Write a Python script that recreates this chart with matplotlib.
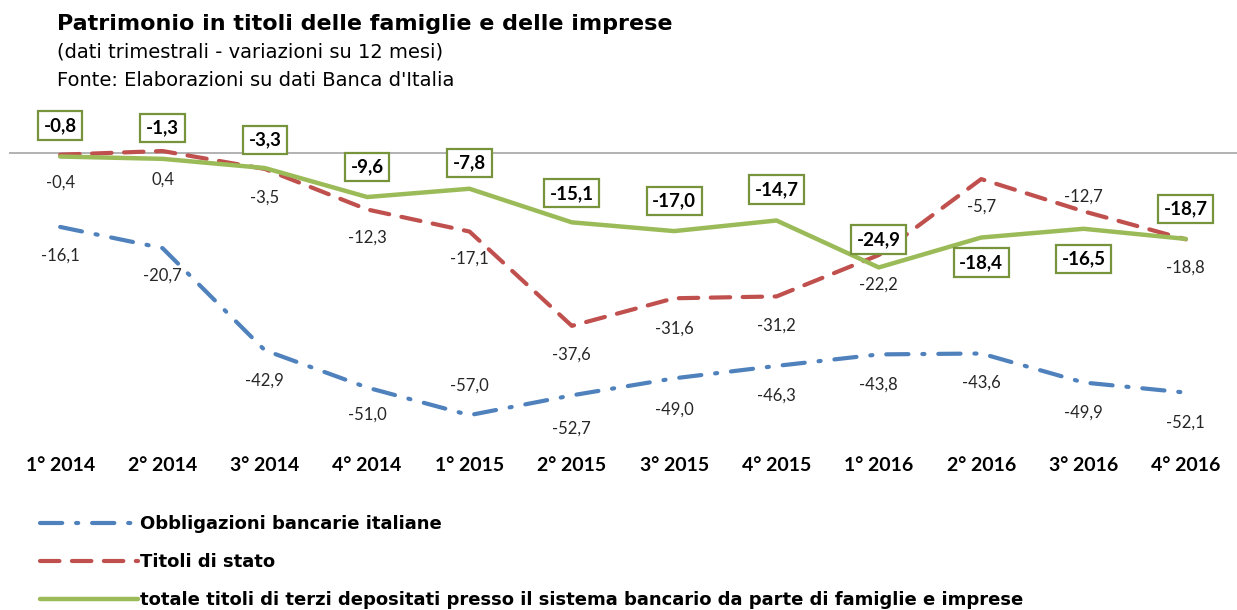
import matplotlib
matplotlib.use("Agg")
import matplotlib.pyplot as plt
import numpy as np

plt.rcParams['font.family'] = ['Lato', 'DejaVu Sans']
plt.rcParams['lines.scale_dashes'] = False

# dati
trimestri = ["1° 2014", "2° 2014", "3° 2014", "4° 2014", "1° 2015", "2° 2015",
             "3° 2015", "4° 2015", "1° 2016", "2° 2016", "3° 2016", "4° 2016"]
obbligazioni = [-16.1, -20.7, -42.9, -51.0, -57.0, -52.7, -49.0, -46.3, -43.8, -43.6, -49.9, -52.1]
titoli_stato = [-0.4, 0.4, -3.5, -12.3, -17.1, -37.6, -31.6, -31.2, -22.2, -5.7, -12.7, -18.8]
totale = [-0.8, -1.3, -3.3, -9.6, -7.8, -15.1, -17.0, -14.7, -24.9, -18.4, -16.5, -18.7]

# posizione etichette (pixel, + sopra / - sotto)
off_obb = [-29, -28, -30, -27, 30, -33, -31, -30, -30, -29, -30, -30]
off_stato = [-28, -29, -29, -28, -27, -29, -30, -29, -30, -28, 15, -28]
off_tot = [31, 31, 28, 30, 26, 29, 30, 31, 28, -25, -30, 30]

blu = "#4F81BD"
rosso = "#C0504D"
verde = "#9BBB59"

def fmt(v):
    return f"{v:.1f}".replace(".", ",")

fig = plt.figure(figsize=(12.37, 6.10), dpi=100)
ax = fig.add_axes([9 / 1237, 1 - 440 / 610, 1 - 9 / 1237, 335 / 610])

x = np.arange(len(trimestri))
ax.axhline(0, color="#A6A6A6", lw=1.2, zorder=1)

l1, = ax.plot(x, obbligazioni, color=blu, lw=3, dashes=(16, 10, 1.5, 10),
              dash_capstyle="round", label="Obbligazioni bancarie italiane", zorder=3)
l2, = ax.plot(x, titoli_stato, color=rosso, lw=3, dashes=(14, 9),
              dash_capstyle="round", label="Titoli di stato", zorder=3)
l3, = ax.plot(x, totale, color=verde, lw=3.2, solid_capstyle="round",
              label="totale titoli di terzi depositati presso il sistema bancario da parte di famiglie e imprese",
              zorder=4)

for xi, v, o in zip(x, obbligazioni, off_obb):
    ax.annotate(fmt(v), (xi, v), xytext=(0, o), textcoords="offset pixels",
                ha="center", va="center", fontsize=12, color="#262626")
for xi, v, o in zip(x, titoli_stato, off_stato):
    ax.annotate(fmt(v), (xi, v), xytext=(0, o), textcoords="offset pixels",
                ha="center", va="center", fontsize=12, color="#262626")
for xi, v, o in zip(x, totale, off_tot):
    ax.annotate(fmt(v), (xi, v), xytext=(0, o), textcoords="offset pixels",
                ha="center", va="center", fontsize=13.5, fontweight="bold", color="black",
                bbox=dict(boxstyle="square,pad=0.3", fc="white", ec="#77933C", lw=1.6),
                zorder=6)

ax.set_xlim(-0.5, len(trimestri) - 0.5)
ax.set_ylim(-62.4, 10.4)
ax.set_xticks(x)
ax.set_xticklabels(trimestri, fontsize=14, fontweight="bold")
ax.tick_params(axis="x", length=0, pad=12)
ax.set_yticks([])
for s in ax.spines.values():
    s.set_visible(False)

fig.text(57 / 1237, 1 - 24 / 610, "Patrimonio in titoli delle famiglie e delle imprese",
         fontsize=16, fontweight="bold", va="center", ha="left", family="DejaVu Sans")
fig.text(57 / 1237, 1 - 52 / 610, "(dati trimestrali - variazioni su 12 mesi)",
         fontsize=14, va="center", ha="left", family="DejaVu Sans")
fig.text(57 / 1237, 1 - 81 / 610, "Fonte: Elaborazioni su dati Banca d'Italia",
         fontsize=14, va="center", ha="left", family="DejaVu Sans")

leg = fig.legend(handles=[l1, l2, l3], loc="upper left", bbox_to_anchor=(40 / 1237, 1 - 515 / 610),
                 frameon=False, prop={"family": "DejaVu Sans", "weight": "bold", "size": 13},
                 handlelength=5.4, handletextpad=0.15, labelspacing=1.12,
                 borderpad=0, borderaxespad=0)

fig.savefig("out.png", dpi=100)
